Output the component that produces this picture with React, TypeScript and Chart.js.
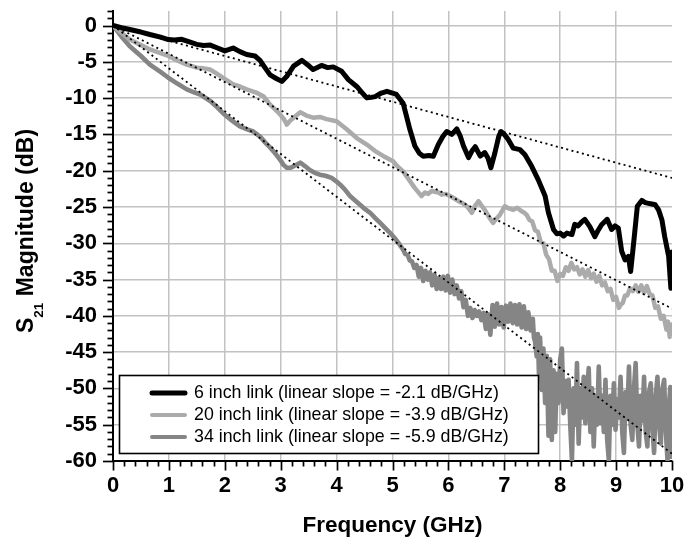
import React, { useEffect, useRef } from 'react';
import { Chart, registerables } from 'chart.js';

Chart.register(...registerables);

const FONT = '"Liberation Sans", Arial, Helvetica, sans-serif';

// ---- Data (frequency in GHz, S21 magnitude in dB) ----
const freq6 = [
  0, 0.15, 0.3, 0.5, 0.66, 0.85, 0.99, 1.1, 1.23, 1.38,
  1.5, 1.62, 1.74, 1.87, 2.0, 2.08, 2.15, 2.27, 2.39, 2.54,
  2.63, 2.7, 2.81, 2.92, 3.02, 3.11, 3.23, 3.38, 3.48, 3.58,
  3.73, 3.84, 3.94, 4.09, 4.21, 4.36, 4.45, 4.54, 4.62, 4.69,
  4.8, 4.9, 5.0, 5.07, 5.19, 5.25, 5.31, 5.4, 5.48, 5.55,
  5.65, 5.73, 5.82, 5.9, 5.97, 6.06, 6.15, 6.21, 6.27, 6.36,
  6.42, 6.48, 6.57, 6.65, 6.71, 6.76, 6.83, 6.9, 6.94, 7.0,
  7.07, 7.16, 7.28, 7.37, 7.49, 7.61, 7.73, 7.79, 7.88, 7.94,
  8.0, 8.06, 8.12, 8.21, 8.26, 8.32, 8.38, 8.44, 8.53, 8.62,
  8.68, 8.74, 8.84, 8.92, 8.98, 9.04, 9.1, 9.16, 9.22, 9.26,
  9.32, 9.38, 9.46, 9.52, 9.58, 9.64, 9.7, 9.76, 9.82, 9.87,
  9.94, 9.98, 10.0,
];
const mag6 = [
  0, -0.3, -0.55, -0.9, -1.24, -1.6, -1.93, -2.0, -1.9, -2.3,
  -2.6, -2.75, -2.7, -3.1, -3.5, -3.3, -3.1, -3.6, -4.0, -4.2,
  -4.8, -5.6, -6.8, -7.3, -7.7, -7.0, -5.6, -4.8, -5.4, -6.07,
  -5.5, -5.8, -5.7, -6.3, -7.45, -8.4, -9.2, -9.97, -9.9, -9.8,
  -9.3, -9.06, -9.3, -9.5, -10.7, -12.5, -14.3, -16.6, -17.6, -18.0,
  -17.9, -18.0, -16.4, -15.3, -14.6, -15.0, -14.25, -15.2, -16.6, -18.2,
  -17.3, -16.7, -18.0, -17.5, -18.3, -19.6, -17.6, -15.3, -14.6, -15.0,
  -15.7, -16.9, -17.1, -17.8, -19.4, -21.3, -23.5, -25.8, -28.1, -28.7,
  -28.6, -29.0, -28.6, -28.8, -27.4, -27.6, -27.1, -26.7, -27.7, -29.1,
  -28.2, -27.45, -26.7, -28.1, -27.6, -27.9, -31.1, -32.3, -31.8, -33.9,
  -29.5, -24.9, -24.1, -24.4, -24.5, -24.6, -24.7, -25.4, -26.8, -29.1,
  -31.8, -36.2, -31.2,
];

const freq20 = [
  0, 0.15, 0.3, 0.5, 0.66, 0.85, 0.99, 1.15, 1.32, 1.5,
  1.62, 1.74, 1.85, 1.97, 2.15, 2.27, 2.39, 2.55, 2.69, 2.81,
  2.96, 3.05, 3.11, 3.17, 3.23, 3.35, 3.46, 3.58, 3.7, 3.82,
  4.0, 4.18, 4.36, 4.54, 4.69, 4.84, 5.01, 5.1, 5.19, 5.31,
  5.4, 5.52, 5.58, 5.64, 5.7, 5.76, 5.82, 5.88, 5.95, 6.03,
  6.1, 6.18, 6.26, 6.33, 6.42, 6.48, 6.54, 6.6, 6.65, 6.72,
  6.8, 6.86, 6.92, 7.01, 7.08, 7.16, 7.23, 7.31, 7.36, 7.4,
  7.45, 7.5, 7.55, 7.6, 7.65, 7.7, 7.75, 7.8, 7.85, 7.9,
  7.95, 8.0, 8.05, 8.1, 8.15, 8.2, 8.25, 8.3, 8.35, 8.4,
  8.45, 8.5, 8.55, 8.6, 8.65, 8.7, 8.75, 8.8, 8.85, 8.9,
  8.95, 9.0, 9.05, 9.08, 9.12, 9.16, 9.2, 9.25, 9.3, 9.35,
  9.4, 9.45, 9.5, 9.55, 9.6, 9.65, 9.7, 9.75, 9.8, 9.85,
  9.9, 9.93, 9.96, 10.0,
];
const mag20 = [
  0, -1.0, -1.93, -2.7, -3.3, -3.8, -4.2, -4.8, -5.4, -5.8,
  -5.9, -6.07, -6.6, -7.2, -8.1, -8.4, -8.8, -9.2, -9.75, -10.9,
  -12.0, -12.8, -13.65, -13.1, -12.7, -11.95, -12.4, -12.7, -12.6, -12.9,
  -13.2, -14.3, -15.5, -16.4, -17.3, -18.0, -18.7, -19.5, -20.1, -21.4,
  -22.4, -23.5, -23.0, -23.2, -22.8, -22.9, -23.0, -23.3, -23.2, -23.5,
  -23.8, -24.2, -24.5, -24.9, -25.8, -24.8, -24.2, -24.9, -25.4, -26.3,
  -27.2, -26.6, -26.1, -24.9, -25.2, -25.4, -25.1, -25.6, -25.8, -26.1,
  -26.8, -27.0, -28.2, -28.4, -29.8, -30.0, -31.6, -32.2, -33.8, -33.8,
  -35.2, -34.2, -34.5, -33.3, -33.8, -32.7, -33.6, -33.3, -34.3, -33.6,
  -34.6, -33.7, -34.8, -34.2, -35.3, -34.5, -35.8, -35.4, -36.6, -36.3,
  -37.8, -37.4, -38.9, -38.5, -38.2, -37.2, -37.2, -36.2, -36.6, -35.8,
  -36.7, -35.8, -36.8, -35.9, -37.0, -37.2, -38.9, -38.7, -40.4, -40.0,
  -41.9, -40.8, -42.9, -41.2,
];

const freq34 = [
  0, 0.15, 0.3, 0.5, 0.66, 0.85, 0.99, 1.15, 1.32, 1.45,
  1.56, 1.74, 1.87, 2.0, 2.13, 2.27, 2.4, 2.51, 2.63, 2.72,
  2.81, 2.9, 2.99, 3.05, 3.11, 3.17, 3.23, 3.35, 3.44, 3.52,
  3.61, 3.7, 3.8, 3.91, 4.0, 4.06, 4.15, 4.24, 4.33, 4.42,
  4.51, 4.6, 4.7, 4.78, 4.87, 4.96, 5.04, 5.12, 5.19, 5.23,
  5.27, 5.31, 5.35, 5.39, 5.43, 5.47, 5.51, 5.55, 5.59, 5.63,
  5.67, 5.71, 5.75, 5.79, 5.83, 5.87, 5.91, 5.95, 5.99, 6.03,
  6.07, 6.11, 6.15, 6.19, 6.23, 6.27, 6.31, 6.35, 6.39, 6.43,
  6.47, 6.51, 6.55, 6.59, 6.63, 6.67, 6.71, 6.75, 6.79, 6.83,
  6.87, 6.91, 6.95, 6.99, 7.03, 7.07, 7.11, 7.15, 7.19, 7.23,
  7.27, 7.31, 7.35, 7.39, 7.43, 7.47, 7.51, 7.53, 7.55, 7.58,
  7.6, 7.62, 7.64, 7.67, 7.7, 7.73, 7.76, 7.79, 7.82, 7.85,
  7.88, 7.91, 7.94, 7.97, 8.0, 8.03, 8.06, 8.09, 8.12, 8.15,
  8.18, 8.21, 8.24, 8.27, 8.3, 8.33, 8.36, 8.39, 8.42, 8.45,
  8.48, 8.51, 8.54, 8.57, 8.6, 8.63, 8.66, 8.69, 8.72, 8.75,
  8.78, 8.81, 8.84, 8.87, 8.9, 8.93, 8.96, 8.99, 9.02, 9.05,
  9.08, 9.11, 9.14, 9.17, 9.2, 9.23, 9.26, 9.29, 9.32, 9.35,
  9.38, 9.41, 9.44, 9.47, 9.5, 9.53, 9.56, 9.59, 9.62, 9.65,
  9.68, 9.71, 9.74, 9.77, 9.8, 9.83, 9.86, 9.89, 9.92, 9.95,
  9.97, 9.99, 10.0,
];
const mag34 = [
  0, -1.5, -2.85, -4.2, -5.4, -6.4, -7.2, -8.0, -8.8, -9.2,
  -9.5, -10.4, -11.3, -12.3, -13.1, -13.9, -14.3, -14.6, -15.3, -16.1,
  -16.8, -17.6, -18.5, -19.2, -19.6, -19.6, -19.4, -18.9, -19.4, -19.9,
  -20.3, -20.55, -20.7, -21.0, -21.5, -21.9, -22.6, -23.5, -24.1, -24.7,
  -25.3, -25.8, -26.6, -27.2, -27.9, -28.6, -29.3, -30.1, -30.9, -31.5,
  -31.6, -32.4, -32.5, -33.4, -33.0, -34.6, -33.4, -35.2, -33.8, -35.0,
  -34.0, -35.8, -34.3, -36.3, -34.8, -36.3, -34.6, -36.5, -34.5, -36.8,
  -35.0, -37.0, -35.8, -37.6, -36.6, -38.8, -37.8, -40.0, -38.9, -40.3,
  -39.2, -40.0, -39.4, -40.6, -39.6, -41.8, -39.8, -42.6, -38.5, -41.5,
  -38.3, -41.2, -38.8, -41.6, -38.6, -40.8, -38.3, -41.0, -38.5, -41.2,
  -38.4, -41.6, -38.7, -41.8, -39.5, -42.0, -40.4, -43.0, -43.5, -45.6,
  -42.5, -48.0, -43.0, -50.2, -44.5, -52.0, -45.5, -56.5, -46.0, -57.1,
  -47.5, -56.0, -48.0, -52.0, -46.0, -44.5, -53.4, -49.0, -52.5, -48.8,
  -55.0, -59.9, -50.0, -55.0, -46.5, -57.6, -50.0, -54.0, -48.4, -54.8,
  -50.5, -47.2, -56.0, -50.0, -58.0, -51.0, -55.0, -47.0, -54.8, -51.0,
  -56.0, -48.8, -57.0, -59.9, -51.0, -55.0, -49.3, -55.7, -51.5, -54.0,
  -48.4, -56.0, -58.9, -50.5, -54.0, -47.0, -55.0, -57.1, -50.0, -46.5,
  -55.0, -58.0, -51.0, -54.5, -48.4, -56.0, -58.0, -50.5, -49.3, -55.5,
  -58.9, -51.0, -48.4, -55.0, -57.6, -50.0, -48.8, -56.0, -59.9, -52.0,
  -49.8, -59.4, -55.0,
];

// Linear fits (dB/GHz) drawn from 0 to 10 GHz
const fitSlopes = [-2.1, -3.9, -5.9];
const fitRange = [0, 10];

const seriesLabels = [
  '6 inch link (linear slope = -2.1 dB/GHz)',
  '20 inch link (linear slope = -3.9 dB/GHz)',
  '34 inch link (linear slope = -5.9 dB/GHz)',
];
const seriesColors = ['#000000', '#ababab', '#858585'];
const seriesWidths = [5, 4.5, 4.6];

const xTitle = 'Frequency (GHz)';
const yTitleMain = 'S';
const yTitleSub = '21';
const yTitleRest = ' Magnitude (dB)';

const decorPlugin = {
  id: 'decor',
  afterDraw(chart: any) {
    const ctx: CanvasRenderingContext2D = chart.ctx;
    const xs = chart.scales.x;
    const ys = chart.scales.y;
    const { left, bottom } = chart.chartArea;
    ctx.save();
    // tick marks (major + minor)
    ctx.strokeStyle = '#000';
    ctx.lineWidth = 1.7;
    for (let v = -60; v <= 2; v += 1) {
      const py = Math.round(ys.getPixelForValue(v)) + 0.5;
      const len = v % 5 === 0 ? 10 : 5.5;
      ctx.beginPath();
      ctx.moveTo(left - len, py);
      ctx.lineTo(left, py);
      ctx.stroke();
    }
    for (let i = 0; i <= 50; i++) {
      const v = i / 5;
      const px = Math.round(xs.getPixelForValue(v)) + 0.5;
      const len = i % 5 === 0 ? 9.5 : 5.5;
      ctx.beginPath();
      ctx.moveTo(px, bottom);
      ctx.lineTo(px, bottom + len);
      ctx.stroke();
    }

    // legend box
    const bx = 119.5, by = 375.5, bw = 419, bh = 78;
    ctx.fillStyle = '#fff';
    ctx.fillRect(bx, by, bw, bh);
    ctx.lineWidth = 1.6;
    ctx.strokeStyle = '#000';
    ctx.strokeRect(bx, by, bw, bh);
    ctx.font = `17.8px ${FONT}`;
    ctx.textBaseline = 'middle';
    ctx.textAlign = 'left';
    seriesLabels.forEach((label, i) => {
      const yy = 393 + i * 22;
      ctx.strokeStyle = seriesColors[i];
      ctx.lineWidth = i === 0 ? 5 : 4;
      ctx.lineCap = 'round';
      ctx.beginPath();
      ctx.moveTo(152, yy);
      ctx.lineTo(185, yy);
      ctx.stroke();
      ctx.fillStyle = '#000';
      ctx.fillText(label, 194, yy + 0.5);
    });

    // x title
    ctx.font = `bold 22.5px ${FONT}`;
    ctx.textAlign = 'center';
    ctx.textBaseline = 'alphabetic';
    ctx.fillStyle = '#000';
    const cx = (chart.chartArea.left + chart.chartArea.right) / 2;
    ctx.fillText(xTitle, cx, 532);

    // y title (rotated, with subscript)
    ctx.translate(33, 231);
    ctx.rotate(-Math.PI / 2);
    const mainFont = `bold 23px ${FONT}`;
    const subFont = `bold 13.5px ${FONT}`;
    ctx.textAlign = 'left';
    ctx.font = mainFont;
    const wS = ctx.measureText(yTitleMain).width;
    const wR = ctx.measureText(yTitleRest).width;
    ctx.font = subFont;
    const wSub = ctx.measureText(yTitleSub).width;
    const total = wS + wSub + wR;
    const x0 = -total / 2;
    ctx.font = mainFont;
    ctx.fillText(yTitleMain, x0, 0);
    ctx.font = subFont;
    ctx.fillText(yTitleSub, x0 + wS, 9.5);
    ctx.font = mainFont;
    ctx.fillText(yTitleRest, x0 + wS + wSub, 0);
    ctx.restore();
  },
};

export default function App() {
  const ref = useRef<HTMLCanvasElement>(null);

  useEffect(() => {
    const canvas = ref.current;
    if (!canvas) return;
    const toPts = (fs: number[], ms: number[]) => fs.map((f, i) => ({ x: f, y: ms[i] }));

    const fitSets = fitSlopes.map((s) => ({
      label: 'fit',
      data: fitRange.map((f) => ({ x: f, y: s * f })),
      borderColor: '#000',
      borderWidth: 1.8,
      borderDash: [2, 3.4],
      borderCapStyle: 'butt' as const,
      pointRadius: 0,
      fill: false,
    }));
    const curves = [
      toPts(freq6, mag6),
      toPts(freq20, mag20),
      toPts(freq34, mag34),
    ].map((data, i) => ({
      label: seriesLabels[i],
      data,
      borderColor: seriesColors[i],
      borderWidth: seriesWidths[i],
      pointRadius: 0,
      fill: false,
      borderJoinStyle: 'round' as const,
      borderCapStyle: 'round' as const,
    }));

    const tickFont = { family: FONT, size: 22, weight: 'bold' as const };

    const chart = new Chart(canvas, {
      type: 'line',
      data: { datasets: [...fitSets, ...curves] as any },
      options: {
        animation: false,
        responsive: false,
        maintainAspectRatio: false,
        layout: { padding: { left: 0, top: 11, right: 25, bottom: 0 } },
        plugins: { legend: { display: false }, tooltip: { enabled: false } },
        elements: { line: { tension: 0 }, point: { radius: 0 } },
        scales: {
          x: {
            type: 'linear',
            min: 0,
            max: 10,
            ticks: { stepSize: 1, padding: 12, color: '#000', font: tickFont, includeBounds: false, maxRotation: 0 },
            grid: {
              drawTicks: false,
              lineWidth: 1.5,
              color: (c: any) => (c.tick && (c.tick.value === 0 || c.tick.value === 10) ? 'rgba(0,0,0,0)' : '#c2c2c2'),
            },
            border: { color: '#000', width: 2 },
            afterFit: (s: any) => {
              s.height = 80;
              s.paddingLeft = 0;
              s.paddingRight = 0;
            },
          },
          y: {
            type: 'linear',
            min: -60,
            max: 2,
            ticks: { stepSize: 5, padding: 16, color: '#000', font: tickFont, includeBounds: false },
            grid: {
              drawTicks: false,
              lineWidth: 1.5,
              color: (c: any) => (c.tick && c.tick.value === -60 ? 'rgba(0,0,0,0)' : '#c2c2c2'),
            },
            border: { color: '#000', width: 2 },
            afterFit: (s: any) => {
              s.width = 113;
              s.paddingTop = 0;
              s.paddingBottom = 0;
            },
          },
        },
      },
      plugins: [decorPlugin],
    });

    return () => chart.destroy();
  }, []);

  return (
    <div style={{ position: 'absolute', left: 0, top: 0, width: 697, height: 541, background: '#fff' }}>
      <canvas ref={ref} width={697} height={541} style={{ display: 'block', width: 697, height: 541 }} />
    </div>
  );
}
